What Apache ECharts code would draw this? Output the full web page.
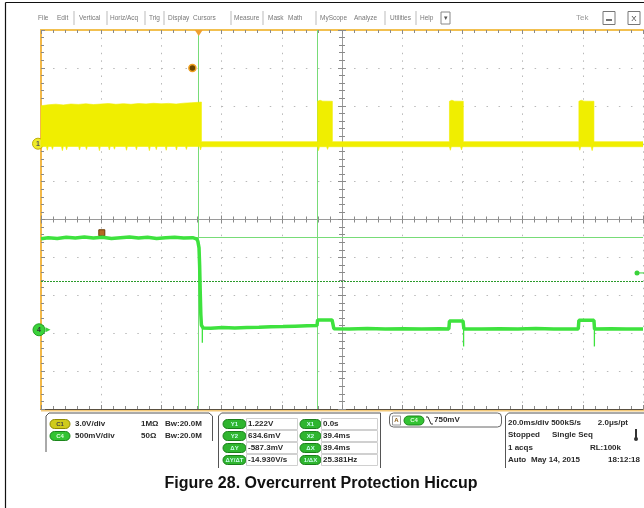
<!DOCTYPE html>
<html><head><meta charset="utf-8">
<script src="https://cdn.jsdelivr.net/npm/echarts@6/dist/echarts.min.js"></script>
<style>html,body{margin:0;padding:0;background:#fff}#c{width:644px;height:508px}</style>
</head><body><div id="c"></div>
<script>
// ---------------- data (time in ms relative to trigger, values in volts) ----------------
const MS_PER_DIV = 20;
const TRIG_SCREEN_MS = -47.6;          // trigger point position on the 200 ms screen (centre = 0)
const CH1_V_PER_DIV = 3.0, CH1_OFFSET_DIV = 2.0;
const CH4_V_PER_DIV = 0.5, CH4_OFFSET_DIV = -2.91;

// CH1 (yellow) envelope: upper edge and lower edge
const CH1_TOP = [[-52.4,3.0],[-50,3.08],[-47.5,3.13],[-45,3.07],[-42.5,3.14],[-40,3.11],[-37.5,3.16],[-35,3.1],[-32.5,3.14],[-30,3.18],[-27.5,3.12],[-25,3.17],[-22.5,3.12],[-20,3.18],[-17.5,3.15],[-15,3.2],[-12.5,3.16],[-10,3.19],[-7.5,3.14],[-5,3.21],[-2.5,3.24],[0,3.28],[0.9,3.3],[0.9,0.16],[39.5,0.16],[39.5,3.36],[40.3,3.44],[41.2,3.37],[44.4,3.36],[44.4,0.16],[83.3,0.16],[83.3,3.36],[84.1,3.44],[85.0,3.37],[87.9,3.36],[87.9,0.16],[126.3,0.16],[126.3,3.36],[127.1,3.44],[128.0,3.37],[131.3,3.36],[131.3,0.16],[147.6,0.16]];
const CH1_BOTTOM = [[-52.4,-0.22],[-50.6,-0.22],[-50.3,-0.52],[-50.0,-0.22],[-48.9,-0.22],[-48.6,-0.45],[-48.3,-0.22],[-45.6,-0.22],[-45.3,-0.55],[-45.0,-0.22],[-44.2,-0.22],[-43.9,-0.48],[-43.6,-0.22],[-39.9,-0.22],[-39.6,-0.5],[-39.3,-0.22],[-37.6,-0.22],[-37.3,-0.46],[-37.0,-0.22],[-33.3,-0.22],[-33.0,-0.55],[-32.7,-0.22],[-30.0,-0.22],[-29.7,-0.5],[-29.4,-0.22],[-28.3,-0.22],[-28.0,-0.44],[-27.7,-0.22],[-24.3,-0.22],[-24.0,-0.52],[-23.7,-0.22],[-21.0,-0.22],[-20.7,-0.48],[-20.4,-0.22],[-16.7,-0.22],[-16.4,-0.55],[-16.1,-0.22],[-14.4,-0.22],[-14.1,-0.47],[-13.8,-0.22],[-11.1,-0.22],[-10.8,-0.52],[-10.5,-0.22],[-7.7,-0.22],[-7.4,-0.5],[-7.1,-0.22],[-4.4,-0.22],[-4.1,-0.46],[-3.8,-0.22],[0.3,-0.22],[0.6,-0.5],[0.9,-0.24],[39.5,-0.24],[39.8,-0.55],[40.1,-0.24],[42.5,-0.24],[42.8,-0.45],[43.1,-0.24],[83.3,-0.24],[83.6,-0.52],[83.9,-0.24],[87.0,-0.24],[87.3,-0.5],[87.6,-0.24],[126.3,-0.24],[126.6,-0.52],[126.9,-0.24],[130.4,-0.24],[130.7,-0.55],[131.0,-0.24],[147.6,-0.24]];

// CH4 (green) trace and its narrow spikes [t, from, to]
const CH4_TRACE = [[-52.4,1.2],[-50,1.215],[-47,1.205],[-44,1.22],[-41,1.21],[-38,1.225],[-35,1.21],[-32,1.22],[-29,1.205],[-26,1.215],[-23,1.225],[-20,1.21],[-17,1.22],[-14,1.205],[-11,1.215],[-8,1.22],[-5,1.21],[-2,1.215],[-0.8,1.2],[-0.3,1.17],[0.1,1.08],[0.3,0.85],[0.5,0.5],[0.7,0.2],[0.9,0.06],[1.5,0.025],[4,0.02],[8,0.03],[12,0.022],[16,0.03],[20,0.033],[24,0.04],[28,0.042],[32,0.048],[36,0.052],[39.3,0.055],[39.5,0.13],[44.3,0.13],[44.9,0.015],[50,0.01],[56,0.016],[62,0.01],[68,0.014],[74,0.012],[80,0.015],[83.1,0.012],[83.3,0.115],[87.8,0.115],[88.1,0.012],[94,0.01],[100,0.015],[106,0.01],[112,0.016],[118,0.012],[126.1,0.012],[126.3,0.125],[131.3,0.125],[131.5,0.01],[137,0.014],[142,0.01],[147.6,0.012]];
const CH4_SPIKES = [[1.2,0.03,-0.17],[88.0,0.01,-0.22],[131.45,0.01,-0.22]];

// cursors and trigger
const CURSOR_X = [0, 39.4];           // ms
const CURSOR_Y = [1.222, 0.6346];     // V (CH4)
const TRIG_LEVEL = 0.75;              // V (CH4)

// readout texts
const MENU = [['File',38],['Edit',57],['Vertical',79],['Horiz/Acq',110],['Trig',149],['Display',168],['Cursors',193],['Measure',234],['Mask',268],['Math',288],['MyScope',320],['Analyze',354],['Utilities',390],['Help',420]];
const MENU_SEP = [74,107,145,164,231,263,316,385,416];
const CUR_LABELS_A = ['Y1','Y2','\u0394Y','\u0394Y/\u0394T'];
const CUR_VALUES_A = ['1.222V','634.6mV','-587.3mV','-14.930V/s'];
const CUR_LABELS_B = ['X1','X2','\u0394X','1/\u0394X'];
const CUR_VALUES_B = ['0.0s','39.4ms','39.4ms','25.381Hz'];
const TITLE = 'Figure 28. Overcurrent Protection Hiccup';

// ---------------- helpers ----------------
const sx = t => t + TRIG_SCREEN_MS;
const y1 = v => v / CH1_V_PER_DIV + CH1_OFFSET_DIV;
const y4 = v => v / CH4_V_PER_DIV + CH4_OFFSET_DIV;

const GRID = {left:41, top:30, width:602, height:379};
const FONT = 'Liberation Sans';
const dotV = {color:'#b9b9b9', width:1, type:[1.5,6.08]};
const dotH = {color:'#b9b9b9', width:1, type:[1.5,10.54]};

function xAx(grid, extra){ return Object.assign({type:'value', gridIndex:grid, min:-100, max:100, interval:MS_PER_DIV, axisLabel:{show:false}}, extra); }
function yAx(grid, extra){ return Object.assign({type:'value', gridIndex:grid, min:-5, max:5, interval:1, axisLabel:{show:false}}, extra); }

const edgeTick = {show:true, inside:true, length:4, lineStyle:{color:'#8a8a8a', width:1}};
const edgeMinor = {show:true, splitNumber:5, length:3, lineStyle:{color:'#8a8a8a', width:1}};

// ---------------- graphic decorations ----------------
const G = [];
const PF = 'bold 8px "'+FONT+'"';
function txt(x,y,s,o){ G.push({type:'text', x:x, y:y, silent:true, style:Object.assign({text:s, fill:'#2a2a2a', font:PF, textVerticalAlign:'middle', textAlign:'left'}, o||{})}); }
function pill(x,y,w,label,fill,stroke,tc){
  G.push({type:'rect', silent:true, shape:{x:x, y:y-4.5, width:w, height:9, r:4.5}, style:{fill:fill, stroke:stroke, lineWidth:1}});
  txt(x+w/2, y, label, {textAlign:'center', fill:tc||'#333', font:'bold 6px "'+FONT+'"'});
}
// frame
G.push({type:'line', silent:true, shape:{x1:5.5,y1:2.5,x2:644,y2:2.5}, style:{stroke:'#111', lineWidth:1.2}});
G.push({type:'line', silent:true, shape:{x1:5.5,y1:2.5,x2:5.5,y2:508}, style:{stroke:'#111', lineWidth:1.2}});
// menu bar
MENU.forEach(m => txt(m[1], 18, m[0], {fill:'#777', font:'6.5px "'+FONT+'"'}));
MENU_SEP.forEach(x => G.push({type:'line', silent:true, shape:{x1:x,y1:11,x2:x,y2:25}, style:{stroke:'#bbb', lineWidth:1}}));
G.push({type:'rect', silent:true, shape:{x:441,y:12,width:9,height:12}, style:{fill:'#fff', stroke:'#888', lineWidth:1}});
txt(445.5, 18, '\u25BE', {textAlign:'center', fill:'#555', font:'7px "'+FONT+'"'});
txt(576, 18, 'Tek', {fill:'#999', font:'8px "'+FONT+'"'});
G.push({type:'rect', silent:true, shape:{x:603,y:11.5,width:12,height:13}, style:{fill:'#fff', stroke:'#777', lineWidth:1}});
G.push({type:'line', silent:true, shape:{x1:606,y1:20,x2:612,y2:20}, style:{stroke:'#444', lineWidth:1.5}});
G.push({type:'rect', silent:true, shape:{x:628,y:11.5,width:12,height:13}, style:{fill:'#fff', stroke:'#777', lineWidth:1}});
txt(634, 18.5, 'X', {textAlign:'center', fill:'#444', font:'8px "'+FONT+'"'});
// bottom orange band under graticule
G.push({type:'rect', silent:true, z:-1, shape:{x:41,y:409,width:603,height:2.5}, style:{fill:'#f2c878'}});
// panel 1: channels
G.push({type:'polyline', silent:true, shape:{points:[[46,452],[46,416],[49,413],[209,413],[212.5,416],[212.5,441]]}, style:{stroke:'#555', fill:null, lineWidth:1}});
pill(50,424,20,'C1','#cfcb1c','#8f8b00','#444');
txt(75,424,'3.0V/div'); txt(141,424,'1M\u03A9'); txt(165,424,'B\u1D21:20.0M');
pill(50,436,20,'C4','#33c333','#1b851b','#dfd');
txt(75,436,'500mV/div'); txt(141,436,'50\u03A9'); txt(165,436,'B\u1D21:20.0M');
// panel 2: cursor readouts
G.push({type:'polyline', silent:true, shape:{points:[[218.5,468],[218.5,416],[221.5,413],[380.5,413],[380.5,468]]}, style:{stroke:'#555', fill:null, lineWidth:1}});
[424,436,448,460].forEach((y,i) => {
  pill(223,y,23,CUR_LABELS_A[i],'#2fb52f','#1b7f1b','#cfe');
  G.push({type:'rect', silent:true, shape:{x:246.5,y:y-5.5,width:51,height:11}, style:{fill:'#fff', stroke:'#d0d0d0', lineWidth:1}});
  txt(248,y,CUR_VALUES_A[i]);
  pill(300,y,21,CUR_LABELS_B[i],'#2fb52f','#1b7f1b','#cfe');
  G.push({type:'rect', silent:true, shape:{x:321.5,y:y-5.5,width:56,height:11}, style:{fill:'#fff', stroke:'#d0d0d0', lineWidth:1}});
  txt(323,y,CUR_VALUES_B[i]);
});
// panel 3: trigger
G.push({type:'rect', silent:true, shape:{x:389.5,y:413,width:112,height:14,r:4}, style:{fill:'#fff', stroke:'#666', lineWidth:1}});
G.push({type:'rect', silent:true, shape:{x:392.5,y:416,width:8,height:9}, style:{fill:'#fff', stroke:'#999', lineWidth:1}});
txt(396.5,420.5,'A',{textAlign:'center', fill:'#8a5a10', font:'bold 6px "'+FONT+'"'});
pill(404,420.5,20,'C4','#33c333','#1b851b','#dfd');
G.push({type:'polyline', silent:true, shape:{points:[[426,417],[428,417],[431,424],[433,424]]}, style:{stroke:'#333', fill:null, lineWidth:1}});
txt(434,420,'750mV');
// panel 4: acquisition
G.push({type:'polyline', silent:true, shape:{points:[[505.5,468],[505.5,416],[508.5,413],[644,413]]}, style:{stroke:'#555', fill:null, lineWidth:1}});
txt(508,423,'20.0ms/div 500kS/s'); txt(628,423,'2.0\u03BCs/pt',{textAlign:'right'});
txt(508,435,'Stopped'); txt(552,435,'Single Seq');
G.push({type:'rect', silent:true, shape:{x:635,y:429,width:2,height:9}, style:{fill:'#333'}});
G.push({type:'circle', silent:true, shape:{cx:636,cy:439,r:2}, style:{fill:'#333'}});
txt(508,447.5,'1 acqs'); txt(621,447.5,'RL:100k',{textAlign:'right'});
txt(508,460,'Auto'); txt(531,460,'May 14, 2015'); txt(640,460,'18:12:18',{textAlign:'right'});
// caption
G.push({type:'text', silent:true, x:321, y:492, style:{text:TITLE, fill:'#111', font:'bold 16px "'+FONT+'"', textAlign:'center', textVerticalAlign:'bottom'}});

// ---------------- chart ----------------
const chart = echarts.init(document.getElementById('c'), null, {renderer:'canvas'});
chart.setOption({
  animation:false,
  backgroundColor:'#fff',
  grid:[Object.assign({}, GRID), Object.assign({}, GRID), Object.assign({}, GRID)],
  xAxis:[
    xAx(0,{position:'bottom', axisLine:{onZero:false, lineStyle:{color:'#5a5040', width:1.2}}, axisTick:edgeTick, minorTick:edgeMinor, splitLine:{show:true, lineStyle:dotV}}),
    xAx(0,{position:'top', axisLine:{onZero:false, lineStyle:{color:'#f2c050', width:2}}, axisTick:edgeTick, minorTick:edgeMinor, splitLine:{show:false}}),
    xAx(1,{axisLine:{onZero:true, lineStyle:{color:'#9a9a9a', width:1}}, axisTick:{show:true, inside:false, length:4, lineStyle:{color:'#8a8a8a'}}, minorTick:{show:true, splitNumber:5, length:3, lineStyle:{color:'#8a8a8a'}}, splitLine:{show:false}}),
    xAx(2,{axisLine:{onZero:true, show:false}, axisTick:{show:true, inside:true, length:4, lineStyle:{color:'#8a8a8a'}}, minorTick:{show:true, splitNumber:5, length:3, lineStyle:{color:'#8a8a8a'}}, splitLine:{show:false}})
  ],
  yAxis:[
    yAx(0,{position:'left', axisLine:{onZero:false, lineStyle:{color:'#f2b848', width:2}}, axisTick:edgeTick, minorTick:edgeMinor, splitLine:{show:true, lineStyle:dotH}}),
    yAx(1,{axisLine:{onZero:true, lineStyle:{color:'#9a9a9a', width:1}}, axisTick:{show:true, inside:false, length:4, lineStyle:{color:'#8a8a8a'}}, minorTick:{show:true, splitNumber:5, length:3, lineStyle:{color:'#8a8a8a'}}, splitLine:{show:false}}),
    yAx(2,{axisLine:{onZero:true, show:false}, axisTick:{show:true, inside:true, length:4, lineStyle:{color:'#8a8a8a'}}, minorTick:{show:true, splitNumber:5, length:3, lineStyle:{color:'#8a8a8a'}}, splitLine:{show:false}})
  ],
  series:[
    { // CH1 envelope
      type:'custom', xAxisIndex:0, yAxisIndex:0, z:5, silent:true, clip:true,
      data:[[0,0]],
      renderItem:(p, api) => {
        const pts = [];
        CH1_TOP.forEach(d => pts.push(api.coord([sx(d[0]), y1(d[1])])));
        for (let i = CH1_BOTTOM.length-1; i >= 0; i--) pts.push(api.coord([sx(CH1_BOTTOM[i][0]), y1(CH1_BOTTOM[i][1])]));
        return {type:'polygon', shape:{points:pts}, style:{fill:'#f0ee00', stroke:'#f0ee00', lineWidth:0.6}};
      },
      markPoint:{silent:true, animation:false, data:[
        {coord:[-100, y1(0)], symbol:'circle', symbolSize:11, symbolOffset:[-3,0], itemStyle:{color:'#efeb2a', borderColor:'#c0b000', borderWidth:1}, label:{show:true, formatter:'1', color:'#555', fontSize:7, fontWeight:'bold'}},
        {coord:[sx(-2.1), y1(6.0)], symbol:'circle', symbolSize:7, itemStyle:{color:'#6a4400', borderColor:'#f0a020', borderWidth:1.5}, label:{show:false}},
        {coord:[sx(0), 5], symbol:'triangle', symbolRotate:180, symbolSize:[8,6], symbolOffset:[0,3], itemStyle:{color:'#f0a030'}, label:{show:false}}
      ]}
    },
    { // CH4 trace
      type:'line', xAxisIndex:0, yAxisIndex:0, z:6, silent:true, symbol:'none',
      data: CH4_TRACE.map(d => [sx(d[0]), y4(d[1])]),
      lineStyle:{color:'#3ee23e', width:3.5},
      markPoint:{silent:true, animation:false, data:[
        {coord:[-100, y4(0)], symbol:'circle', symbolSize:12, symbolOffset:[-2,0], itemStyle:{color:'#3ad23a', borderColor:'#22a022', borderWidth:1}, label:{show:true, formatter:'4', color:'#333', fontSize:7, fontWeight:'bold'}},
        {coord:[-100, y4(0)], symbol:'triangle', symbolRotate:-90, symbolSize:[5,5], symbolOffset:[7,0], itemStyle:{color:'#3ad23a'}, label:{show:false}},
        {coord:[sx(-32.2), y4(1.28)], symbol:'rect', symbolSize:6, itemStyle:{color:'#b46a20', borderColor:'#6a3a00', borderWidth:1}, label:{show:false}},
        {coord:[100, y4(TRIG_LEVEL)], symbol:'circle', symbolSize:5, symbolOffset:[-6,0], itemStyle:{color:'#3ad23a'}, label:{show:false}},
        {coord:[100, y4(TRIG_LEVEL)], symbol:'rect', symbolSize:[6,1], symbolOffset:[-2,0], itemStyle:{color:'#3ad23a'}, label:{show:false}}
      ]}
    },
    { // CH4 spikes
      type:'custom', xAxisIndex:0, yAxisIndex:0, z:6, silent:true, clip:true,
      data: CH4_SPIKES,
      renderItem:(p, api) => {
        const a = api.coord([sx(api.value(0)), y4(api.value(1))]);
        const b = api.coord([sx(api.value(0)), y4(api.value(2))]);
        return {type:'line', shape:{x1:a[0], y1:a[1], x2:b[0], y2:b[1]}, style:{stroke:'#3ee23e', lineWidth:1.3}};
      }
    },
    { // cursors
      type:'line', xAxisIndex:0, yAxisIndex:0, z:7, silent:true, data:[],
      markLine:{silent:true, animation:false, symbol:'none', label:{show:false}, data:[
        {xAxis:sx(CURSOR_X[0]), lineStyle:{color:'#78dc78', width:1, type:'solid'}},
        {xAxis:sx(CURSOR_X[1]), lineStyle:{color:'#78dc78', width:1, type:'solid'}},
        {yAxis:y4(CURSOR_Y[0]), lineStyle:{color:'#78dc78', width:1, type:'solid'}},
        {yAxis:y4(CURSOR_Y[1]), lineStyle:{color:'#2a9a2a', width:1, type:[2,1]}}
      ]}
    }
  ],
  graphic: G
});
</script></body></html>
